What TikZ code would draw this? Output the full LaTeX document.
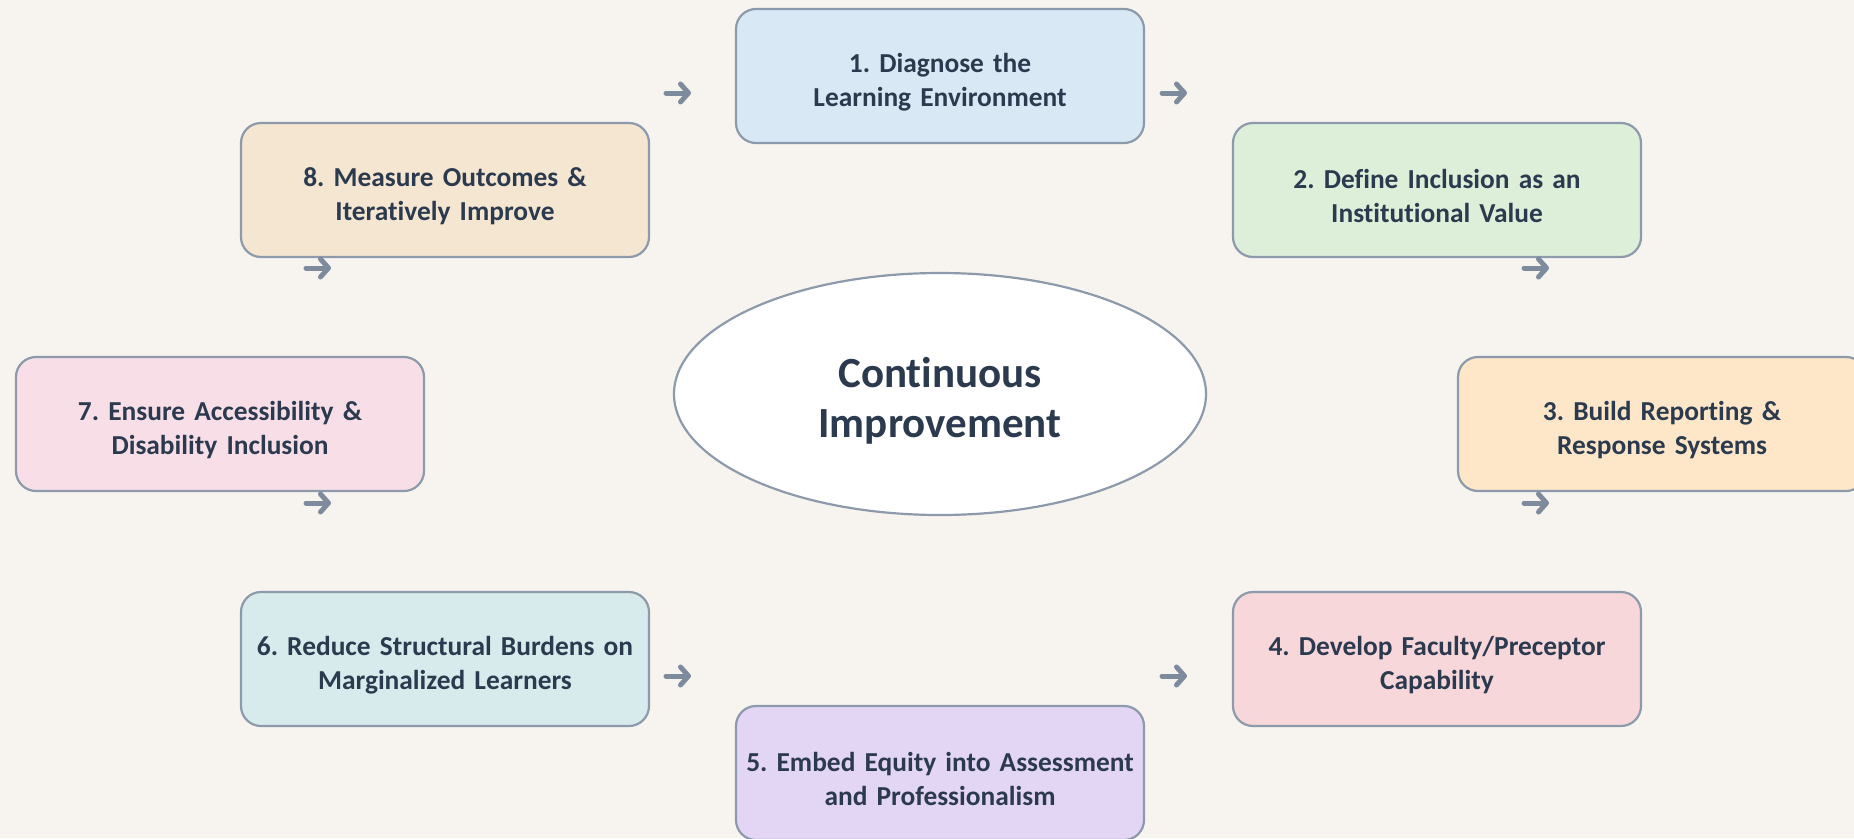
\documentclass[tikz,border=0pt]{standalone}
\usepackage{fontspec}
\setmainfont{Carlito}[Ligatures={NoCommon}]
\usetikzlibrary{arrows.meta,shapes.geometric}
\frenchspacing
\definecolor{bgc}{HTML}{F7F4EF}
\definecolor{edgec}{HTML}{8C9AAB}
\definecolor{txtc}{HTML}{2B3A4E}
\definecolor{arrc}{HTML}{7D8B9D}
\definecolor{cA}{HTML}{D8E9F5}
\definecolor{cB}{HTML}{DDEFD9}
\definecolor{cC}{HTML}{FDE7C8}
\definecolor{cD}{HTML}{F7D7DA}
\definecolor{cE}{HTML}{E3D6F4}
\definecolor{cF}{HTML}{D7EBEC}
\definecolor{cG}{HTML}{F8DFE7}
\definecolor{cH}{HTML}{F4E6D0}
\tikzset{
  stepbox/.style={draw=edgec, line width=2.2pt, rounded corners=20pt,
    minimum width=408pt, minimum height=134pt, inner sep=0pt},
  steptext/.style={text width=400pt, align=center, inner sep=0pt,
    text=txtc, font=\fontsize{27.4pt}{34pt}\selectfont\bfseries},
  hub/.style={ellipse, draw=edgec, line width=2.2pt, fill=white,
    minimum width=532pt, minimum height=242pt, inner sep=0pt},
  hubtext/.style={text width=300pt, align=center, inner sep=0pt, text=txtc,
    font=\fontsize{43pt}{50pt}\selectfont\bfseries},
  glypharrow/.style={draw=arrc, line width=5pt, line cap=round,
    -{Straight Barb[round,length=8pt,width=18pt]}}
}
\newcommand{\stepnode}[5]{%
  \node[stepbox, fill=#2, label={[steptext, yshift=-6pt]center:#5}] (#1) at (#3,#4) {};}
\begin{document}
\begin{tikzpicture}[x=1pt,y=-1pt]
\fill[bgc] (0,0) rectangle (1854,838);
\useasboundingbox (0,0) rectangle (1854,838);
\node[hub, label={[hubtext, yshift=-7pt]center:Continuous\\Improvement}] (c) at (940,394) {};
\stepnode{s1}{cA}{940}{76}{1. Diagnose the\\Learning Environment}
\stepnode{s2}{cB}{1437}{190}{2. Define Inclusion as an\\Institutional Value}
\stepnode{s3}{cC}{1662}{424}{3. Build Reporting \&\\Response Systems}
\stepnode{s4}{cD}{1437}{659}{4. Develop Faculty/Preceptor\\Capability}
\stepnode{s5}{cE}{940}{773}{5. Embed Equity into Assessment\\and Professionalism}
\stepnode{s6}{cF}{445}{659}{6. Reduce Structural Burdens on\\Marginalized Learners}
\stepnode{s7}{cG}{220}{424}{7. Ensure Accessibility \&\\Disability Inclusion}
\stepnode{s8}{cH}{445}{190}{8. Measure Outcomes \&\\Iteratively Improve}
% arrow glyphs
\foreach \n/\x/\y in {a1/678/93, a2/1174/93, a3/1536/268, a4/1536/503, a5/1174/676, a6/678/676, a7/318/503, a8/318/268}{
  \coordinate (\n s) at (\x-12,\y);
  \coordinate (\n e) at (\x+13,\y);
}
\draw[glypharrow] (a1s) -- (a1e);
\draw[glypharrow] (a2s) -- (a2e);
\draw[glypharrow] (a3s) -- (a3e);
\draw[glypharrow] (a4s) -- (a4e);
\draw[glypharrow] (a5s) -- (a5e);
\draw[glypharrow] (a6s) -- (a6e);
\draw[glypharrow] (a7s) -- (a7e);
\draw[glypharrow] (a8s) -- (a8e);
\end{tikzpicture}
\end{document}
